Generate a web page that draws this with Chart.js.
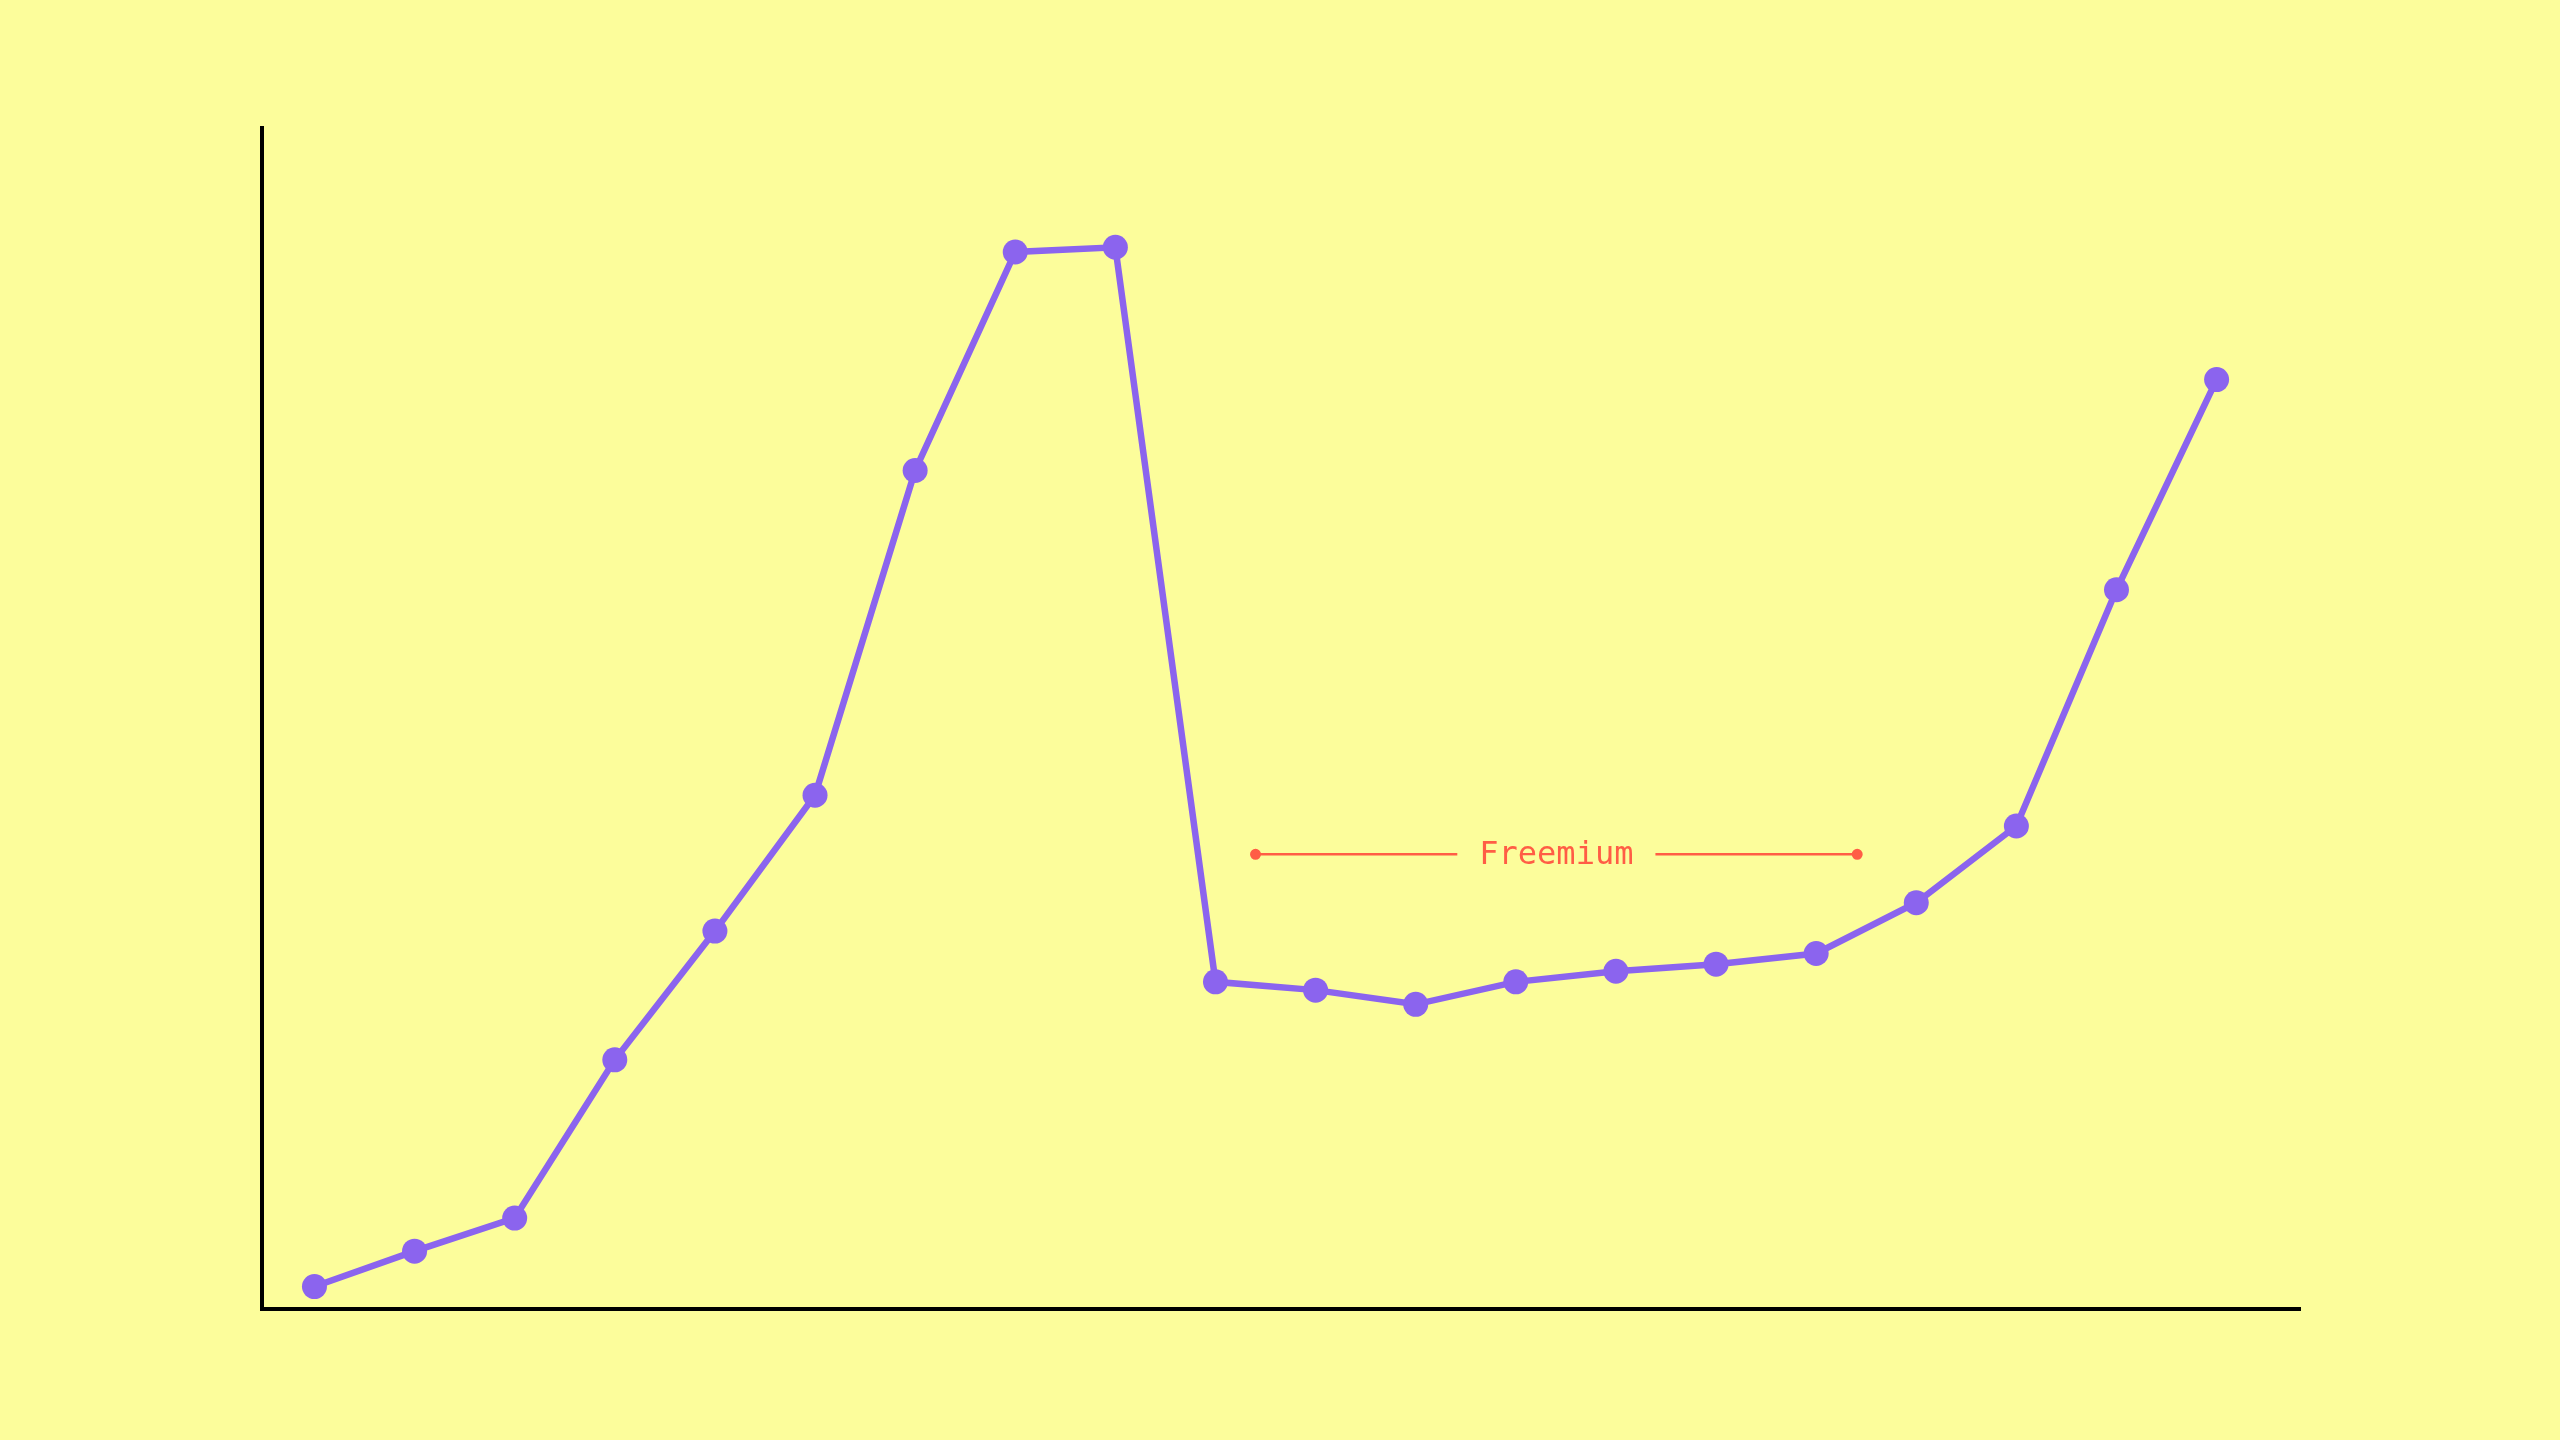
<!DOCTYPE html>
<html>
<head>
<meta charset="utf-8">
<script src="https://cdn.jsdelivr.net/npm/chart.js@4.4.1/dist/chart.umd.min.js"></script>
<style>
  html, body { margin: 0; padding: 0; background: #fcfd9b; }
  canvas { display: block; }
</style>
</head>
<body>
<canvas id="growth" width="2560" height="1440"></canvas>
<script>
// periods along the x axis and the value at each one
let periods = [1, 2, 3, 4, 5, 6, 7, 8, 9, 10, 11, 12, 13, 14, 15, 16, 17, 18, 19, 20];
let users = [1.9, 4.9, 7.7, 21.1, 32.0, 43.5, 71.0, 89.5, 89.9, 27.7,
             27.0, 25.8, 27.7, 28.6, 29.2, 30.1, 34.4, 40.9, 60.9, 78.7];

// the "Freemium" span marked on the chart
let freemiumLabel = 'Freemium';
let freemiumFrom = 10.4;
let freemiumTo = 16.41;
let freemiumLevel = 38.5;

let purple = '#8b64ee';
let coral = '#ff5d45';

let points = periods.map((p, i) => ({ x: p, y: users[i] }));

let ctx = document.getElementById('growth').getContext('2d');
let growth = new Chart(ctx, {
    type: 'line',
    data: {
        datasets: [{
            label: 'Users',
            data: points,
            borderColor: purple,
            backgroundColor: purple,
            borderWidth: 6.5,
            pointRadius: 12.5,
            pointBorderWidth: 0,
            pointBackgroundColor: purple,
            tension: 0,
            clip: false
        }]
    },
    options: {
        responsive: false,
        animation: false,
        devicePixelRatio: 1,
        events: [],
        layout: {
            padding: { left: 254, right: 260, top: 128, bottom: 123 }
        },
        plugins: {
            legend: { display: false },
            tooltip: { enabled: false }
        },
        scales: {
            x: {
                type: 'linear',
                min: 0.476,
                max: 20.833,
                grid: { display: false },
                ticks: { display: false },
                border: { display: true, color: '#000', width: 4 }
            },
            y: {
                min: 0,
                max: 100,
                grid: { display: false },
                ticks: { display: false },
                border: { display: true, color: '#000', width: 4 }
            }
        }
    },
    plugins: [{
        id: 'freemium',
        afterDraw: function (chart) {
            let c = chart.ctx,
                xs = chart.scales.x,
                ys = chart.scales.y;
            let x1 = xs.getPixelForValue(freemiumFrom),
                x2 = xs.getPixelForValue(freemiumTo),
                y = ys.getPixelForValue(freemiumLevel),
                mid = (x1 + x2) / 2;

            c.save();
            c.font = '32px "DejaVu Sans Mono", monospace';
            c.textAlign = 'center';
            c.textBaseline = 'middle';
            let half = c.measureText(freemiumLabel).width / 2 + 22;

            c.strokeStyle = coral;
            c.fillStyle = coral;
            c.lineWidth = 2.5;
            c.beginPath();
            c.moveTo(x1, y);
            c.lineTo(mid - half, y);
            c.moveTo(mid + half, y);
            c.lineTo(x2, y);
            c.stroke();

            c.beginPath();
            c.arc(x1, y, 5.5, 0, Math.PI * 2);
            c.arc(x2, y, 5.5, 0, Math.PI * 2);
            c.fill();

            c.fillText(freemiumLabel, mid, y + 1);
            c.restore();
        }
    }]
});
</script>
</body>
</html>
